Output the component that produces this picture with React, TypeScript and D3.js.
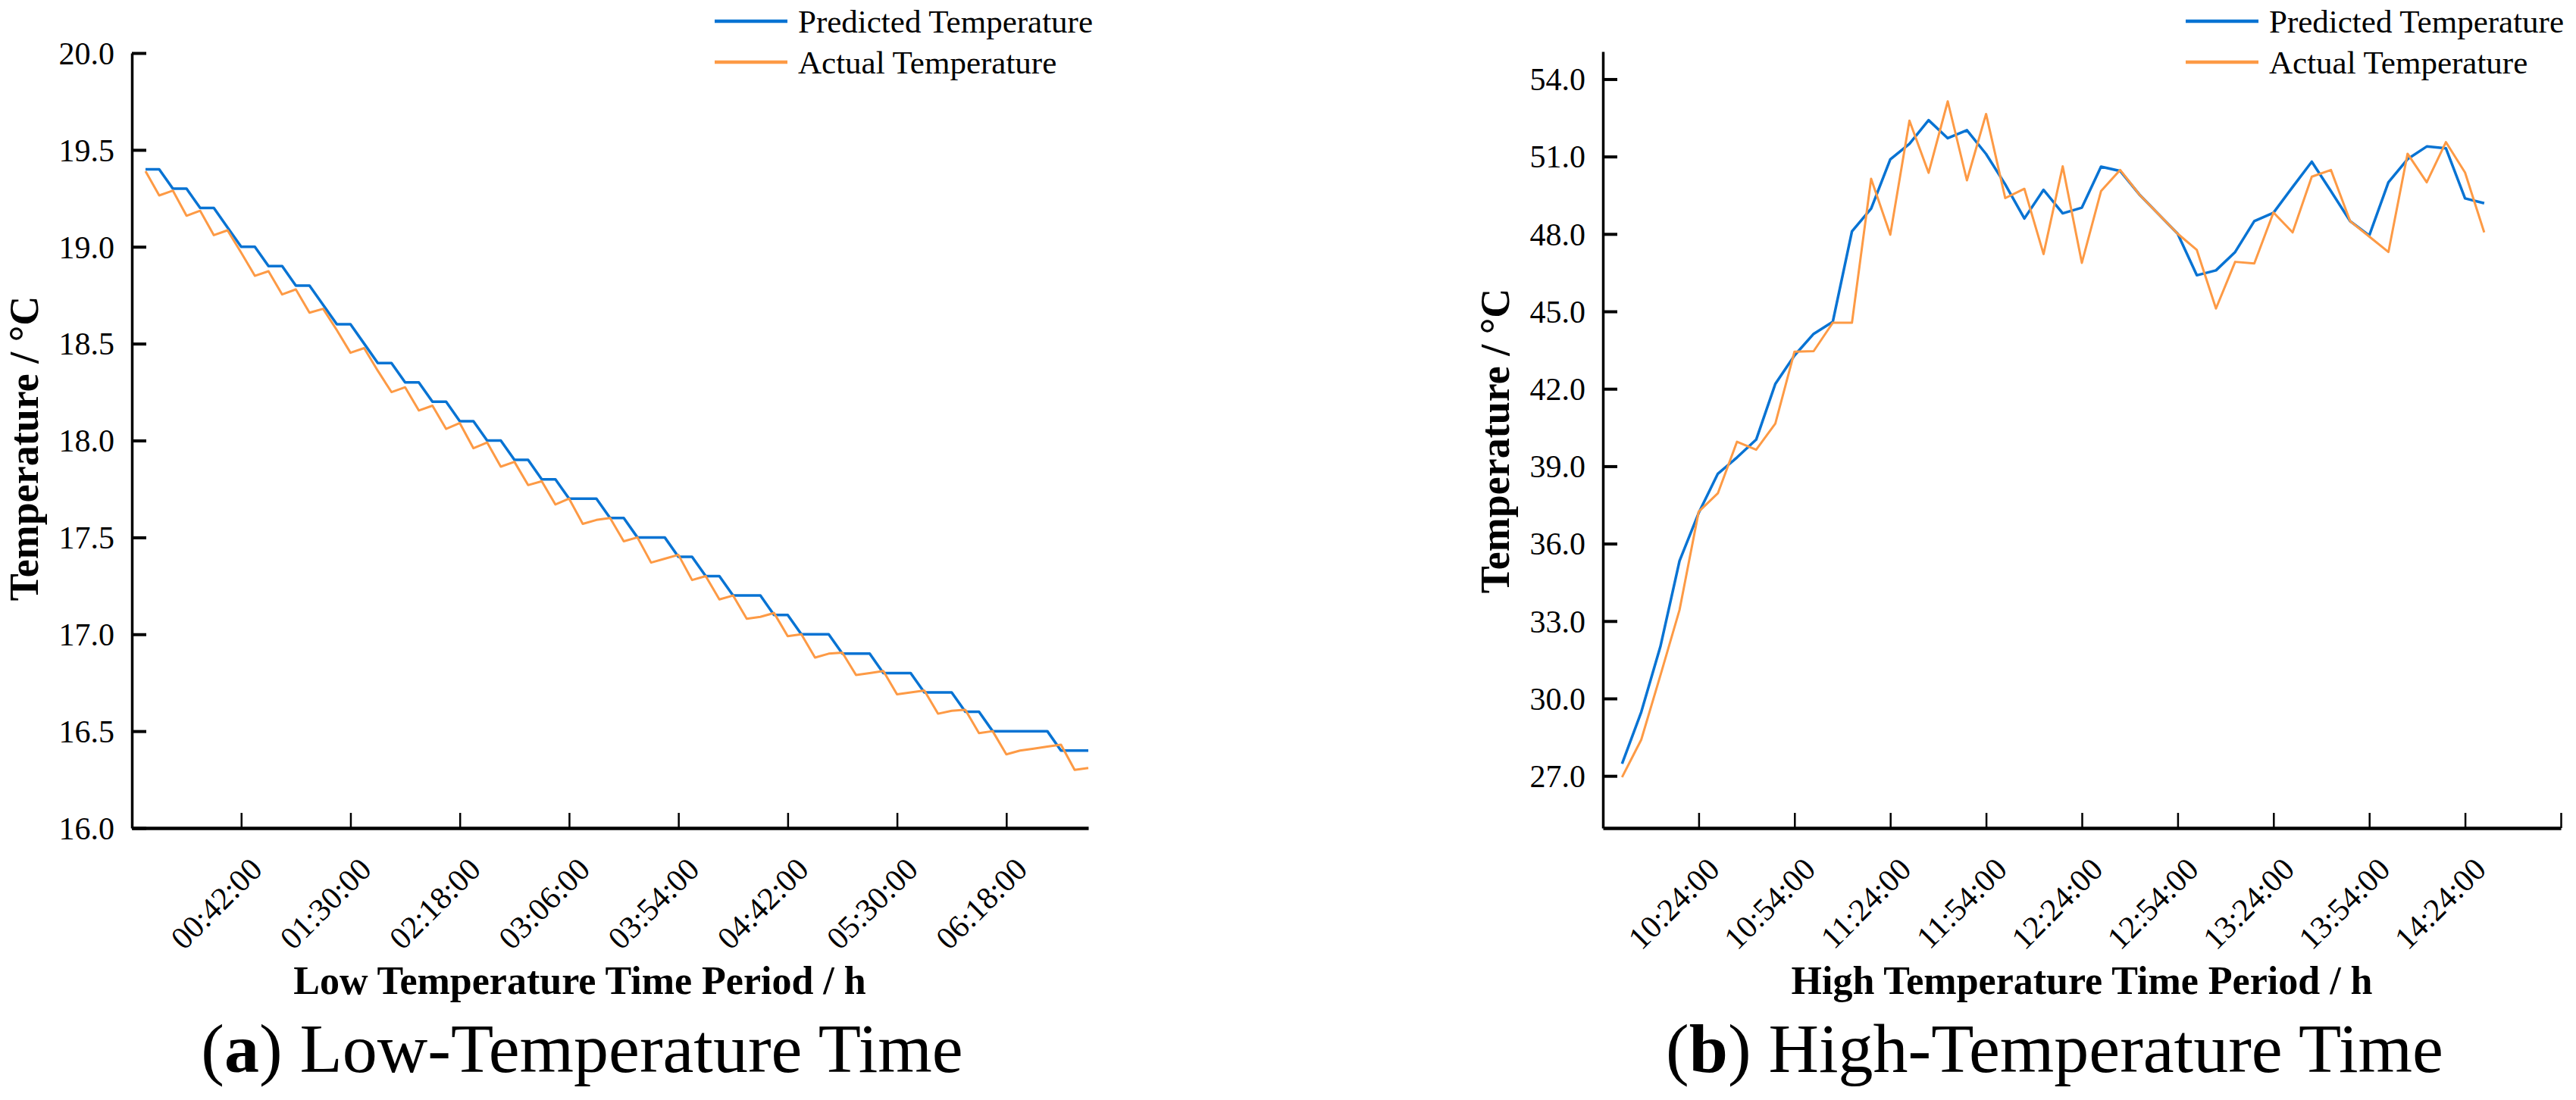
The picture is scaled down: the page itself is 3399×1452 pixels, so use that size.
import { useEffect, useRef } from "react";
import * as d3 from "d3";

const FONT = "'Liberation Serif', 'Times New Roman', serif";
const BLUE = "#0873d3";
const ORANGE = "#fd9a45";

const legendLabels = ["Predicted Temperature", "Actual Temperature"];

// low temperature period: one reading every 6 minutes from 00:00:00
const lowStartMin = 0;
const lowStepMin = 6;
const lowPredicted = [
  19.4, 19.4, 19.3, 19.3, 19.2, 19.2, 19.1, 19.0, 19.0, 18.9,
  18.9, 18.8, 18.8, 18.7, 18.6, 18.6, 18.5, 18.4, 18.4, 18.3,
  18.3, 18.2, 18.2, 18.1, 18.1, 18.0, 18.0, 17.9, 17.9, 17.8,
  17.8, 17.7, 17.7, 17.7, 17.6, 17.6, 17.5, 17.5, 17.5, 17.4,
  17.4, 17.3, 17.3, 17.2, 17.2, 17.2, 17.1, 17.1, 17.0, 17.0,
  17.0, 16.9, 16.9, 16.9, 16.8, 16.8, 16.8, 16.7, 16.7, 16.7,
  16.6, 16.6, 16.5, 16.5, 16.5, 16.5, 16.5, 16.4, 16.4, 16.4,
];
const lowActual = [
  19.39, 19.265, 19.29, 19.16, 19.186, 19.06, 19.085, 18.97, 18.85, 18.874,
  18.754, 18.78, 18.66, 18.68, 18.57, 18.453, 18.477, 18.36, 18.25, 18.275,
  18.155, 18.18, 18.06, 18.09, 17.96, 17.99, 17.865, 17.89, 17.77, 17.79,
  17.67, 17.7, 17.57, 17.59, 17.6, 17.48, 17.5, 17.37, 17.39, 17.41,
  17.28, 17.3, 17.18, 17.2, 17.08, 17.09, 17.11, 16.99, 17.0, 16.88,
  16.9, 16.905, 16.79, 16.8, 16.81, 16.69, 16.7, 16.71, 16.59, 16.605,
  16.61, 16.49, 16.5, 16.38, 16.4, 16.41, 16.42, 16.43, 16.3, 16.31,
];
const lowYTicks = [16.0, 16.5, 17.0, 17.5, 18.0, 18.5, 19.0, 19.5, 20.0];
const lowXTicks = [-6, 42, 90, 138, 186, 234, 282, 330, 378];
const lowXLabels = ["", "00:42:00", "01:30:00", "02:18:00", "03:06:00", "03:54:00", "04:42:00", "05:30:00", "06:18:00"];

// high temperature period: one reading every 6 minutes from 10:00:00
const highStartMin = 0;
const highStepMin = 6;
const highPredicted = [
  27.47, 29.47, 32.01, 35.33, 37.19, 38.71, 39.34, 40.03, 42.19, 43.29,
  44.13, 44.6, 48.1, 48.98, 50.89, 51.49, 52.41, 51.71, 52.02, 51.1,
  49.92, 48.6, 49.71, 48.8, 49.02, 50.61, 50.44, 49.53, 48.77, 48.01,
  46.4, 46.59, 47.3, 48.5, 48.82, 49.82, 50.8, 49.66, 48.5, 47.94,
  50.0, 50.9, 51.39, 51.32, 49.38, 49.19,
];
const highActual = [
  26.95, 28.4, 30.89, 33.43, 37.24, 37.95, 39.95, 39.64, 40.65, 43.44,
  43.46, 44.56, 44.56, 50.14, 47.97, 52.39, 50.37, 53.14, 50.08, 52.65,
  49.39, 49.75, 47.22, 50.62, 46.88, 49.66, 50.48, 49.53, 48.77, 48.01,
  47.38, 45.11, 46.92, 46.86, 48.83, 48.06, 50.22, 50.48, 48.5, 47.9,
  47.3, 51.11, 50.0, 51.56, 50.38, 48.06,
];
const highYTicks = [27, 30, 33, 36, 39, 42, 45, 48, 51, 54];
const highXTicks = [-6, 24, 54, 84, 114, 144, 174, 204, 234, 264, 294];
const highXLabels = ["", "10:24:00", "10:54:00", "11:24:00", "11:54:00", "12:24:00", "12:54:00", "13:24:00", "13:54:00", "14:24:00", ""];

const panels = [
  {
    left: 174, right: 1436, top: 70, bottom: 1093,
    xDomain: [-6, 414], yDomain: [16, 20],
    start: lowStartMin, step: lowStepMin,
    predicted: lowPredicted, actual: lowActual,
    yTicks: lowYTicks, xTicks: lowXTicks, xLabels: lowXLabels,
    xTitle: "Low Temperature Time Period / h", xTitleX: 765,
    yTitleX: 50, yTitleY: 592,
    legendX: 943,
    capTag: "a", capText: " Low-Temperature Time", capX: 768,
  },
  {
    left: 2115, right: 3379, top: 68, bottom: 1093,
    xDomain: [-6, 294], yDomain: [24.98, 55.07],
    start: highStartMin, step: highStepMin,
    predicted: highPredicted, actual: highActual,
    yTicks: highYTicks, xTicks: highXTicks, xLabels: highXLabels,
    xTitle: "High Temperature Time Period / h", xTitleX: 2747,
    yTitleX: 1991, yTitleY: 582,
    legendX: 2884,
    capTag: "b", capText: " High-Temperature Time", capX: 2711,
  },
];

function drawPanel(root, p) {
  const g = root.append("g");
  const x = d3.scaleLinear().domain(p.xDomain).range([p.left, p.right]);
  const y = d3.scaleLinear().domain(p.yDomain).range([p.bottom, p.top]);

  // y axis, ticks pointing inward
  const ya = g
    .append("g")
    .attr("transform", `translate(${p.left},0)`)
    .call(
      d3.axisLeft(y).tickValues(p.yTicks).tickSizeInner(-19).tickSizeOuter(0).tickFormat(d3.format(".1f"))
    );
  ya.attr("font-size", null).attr("font-family", null);
  ya.select(".domain").attr("stroke", "#000").attr("stroke-width", 3.5);
  ya.selectAll(".tick line").attr("stroke", "#000").attr("stroke-width", 4);
  ya.selectAll(".tick text")
    .attr("x", -23)
    .attr("dy", "0.34em")
    .attr("fill", "#000")
    .style("font-family", FONT)
    .style("font-size", "42px");

  // x axis
  const xa = g
    .append("g")
    .attr("transform", `translate(0,${p.bottom})`)
    .call(d3.axisBottom(x).tickValues(p.xTicks).tickSizeInner(-20).tickSizeOuter(0).tickFormat(() => ""));
  xa.select(".domain").attr("stroke", "#000").attr("stroke-width", 4.5);
  xa.selectAll(".tick line").attr("stroke", "#000").attr("stroke-width", 2.5);
  xa.selectAll(".tick text").remove();

  g.selectAll(".xlab")
    .data(p.xTicks.map((t, i) => ({ t, label: p.xLabels[i] })).filter((d) => d.label))
    .enter()
    .append("text")
    .attr("transform", (d) => `translate(${x(d.t) + 30},${p.bottom + 57}) rotate(-45)`)
    .attr("text-anchor", "end")
    .style("font-family", FONT)
    .style("font-size", "42px")
    .text((d) => d.label);

  // series
  const line = d3
    .line()
    .x((d, i) => x(p.start + i * p.step))
    .y((d) => y(d));

  g.append("path")
    .attr("d", line(p.predicted))
    .attr("fill", "none")
    .attr("stroke", BLUE)
    .attr("stroke-width", 3.5)
    .attr("stroke-linejoin", "round");
  g.append("path")
    .attr("d", line(p.actual))
    .attr("fill", "none")
    .attr("stroke", ORANGE)
    .attr("stroke-width", 3)
    .attr("stroke-linejoin", "round");

  // legend
  const colors = [BLUE, ORANGE];
  legendLabels.forEach((lab, i) => {
    const ly = 28 + i * 54;
    g.append("line")
      .attr("x1", p.legendX)
      .attr("x2", p.legendX + 96)
      .attr("y1", ly)
      .attr("y2", ly)
      .attr("stroke", colors[i])
      .attr("stroke-width", 4.5);
    g.append("text")
      .attr("x", p.legendX + 110)
      .attr("y", ly + 15)
      .style("font-family", FONT)
      .style("font-size", "43px")
      .text(lab);
  });

  // axis titles
  g.append("text")
    .attr("x", p.xTitleX)
    .attr("y", 1312)
    .attr("text-anchor", "middle")
    .style("font-family", FONT)
    .style("font-size", "52px")
    .style("font-weight", "bold")
    .text(p.xTitle);

  g.append("text")
    .attr("transform", `translate(${p.yTitleX},${p.yTitleY}) rotate(-90)`)
    .attr("text-anchor", "middle")
    .style("font-family", FONT)
    .style("font-size", "54px")
    .style("font-weight", "bold")
    .text("Temperature / °C");

  // caption
  const cap = g
    .append("text")
    .attr("x", p.capX)
    .attr("y", 1415)
    .attr("text-anchor", "middle")
    .style("font-family", FONT)
    .style("font-size", "92px");
  cap.append("tspan").text("(");
  cap.append("tspan").style("font-weight", "bold").text(p.capTag);
  cap.append("tspan").text(")" + p.capText);
}

export default function App() {
  const svgRef = useRef(null);

  useEffect(() => {
    const svg = d3.select(svgRef.current);
    svg.selectAll("*").remove();
    svg.append("rect").attr("width", 3399).attr("height", 1452).attr("fill", "#fff");
    panels.forEach((p) => drawPanel(svg, p));
  }, []);

  return (
    <svg
      ref={svgRef}
      width={3399}
      height={1452}
      style={{ position: "absolute", left: 0, top: 0, display: "block" }}
    />
  );
}
